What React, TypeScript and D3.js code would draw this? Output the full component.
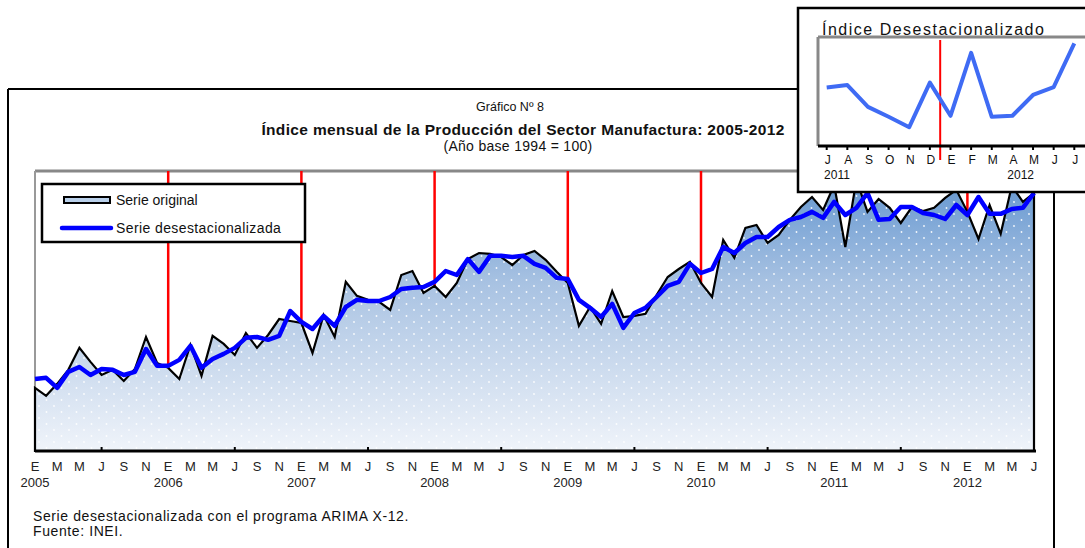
import React from 'react';
import * as d3 from 'd3';

// Índice mensual de la producción manufacturera (1994 = 100), ene 2005 - jul 2012
const serieOriginal = [
  102.1, 99.3, 103.5, 108.4, 116.1, 111.2, 106.6, 108.4, 104.5, 108.7, 119.9, 110.8,
  109.1, 105.2, 117.1, 106.3, 120.3, 117.5, 113.6, 121.3, 116.1, 120.6, 126.2, 125.5,
  124.8, 114.3, 127.6, 119.9, 139.2, 134.3, 132.9, 132.2, 129.4, 141.6, 143.0, 135.3,
  137.8, 133.9, 138.8, 147.2, 149.3, 149.0, 147.9, 145.1, 148.6, 150.0, 146.9, 142.7,
  138.8, 123.8, 130.4, 124.5, 136.0, 126.9, 127.3, 128.0, 134.6, 140.9, 143.7, 146.2,
  138.8, 133.9, 153.9, 147.6, 158.1, 159.1, 152.8, 155.6, 160.9, 165.4, 168.9, 164.4,
  173.1, 151.4, 174.9, 163.7, 168.2, 165.1, 159.8, 165.4, 164.0, 165.1, 168.6, 171.4,
  163.7, 154.2, 166.1, 156.0, 172.8, 167.2, 170.3,
];

const serieDesest = [
  105.2, 105.6, 102.1, 107.7, 109.4, 106.6, 108.7, 108.4, 106.6, 107.7, 115.7, 109.8,
  109.8, 111.9, 116.8, 109.1, 112.2, 114.0, 116.1, 119.6, 119.9, 118.9, 120.3, 129.0,
  125.2, 122.7, 127.3, 123.8, 130.4, 132.9, 132.5, 132.5, 133.9, 136.7, 137.1, 137.4,
  139.2, 143.0, 141.6, 147.2, 142.7, 148.3, 148.3, 147.9, 148.3, 145.5, 144.1, 140.6,
  140.2, 132.9, 130.1, 126.9, 131.5, 123.1, 128.3, 130.1, 133.9, 137.8, 139.2, 145.5,
  142.3, 143.7, 151.4, 149.3, 152.8, 154.9, 154.9, 158.4, 160.9, 161.9, 163.7, 161.6,
  167.2, 162.6, 165.1, 170.3, 160.9, 161.2, 165.4, 165.4, 163.3, 162.6, 161.2, 166.1,
  162.6, 168.9, 163.0, 163.0, 164.7, 165.1, 170.3,
];

const mesesLetra = ['E', 'F', 'M', 'A', 'M', 'J', 'J', 'A', 'S', 'O', 'N', 'D'];
const anios = ['2005', '2006', '2007', '2008', '2009', '2010', '2011', '2012'];

// recuadro: julio 2011 - julio 2012
const insetMeses = ['J', 'A', 'S', 'O', 'N', 'D', 'E', 'F', 'M', 'A', 'M', 'J', 'J'];
const insetValores = [161.8, 162.3, 157.9, 155.9, 153.8, 162.8, 156.1, 168.8, 155.9, 156.1, 160.3, 161.9, 170.7];
const insetAnios = [{ label: '2011', pos: 0.5 }, { label: '2012', pos: 9.4 }];

const FONT = "'Liberation Sans', Arial, sans-serif";

export default function App() {
  const width = 1085;
  const height = 548;

  const plot = { left: 35, right: 1035, top: 171, bottom: 451 };
  const n = serieOriginal.length;

  const x = d3.scaleLinear().domain([0, 90]).range([plot.left, plot.left + 90 * 11.1]);
  const y = d3.scaleLinear().domain([80, 178]).range([plot.bottom, plot.top]);

  const area = d3.area<number>()
    .x((d, i) => x(i))
    .y0(plot.bottom)
    .y1(d => y(d));
  const line = d3.line<number>()
    .x((d, i) => x(i))
    .y(d => y(d));

  const idx = d3.range(n);
  const eneros = idx.filter(i => i % 12 === 0 && i > 0);
  const julios = idx.filter(i => i % 12 === 6);
  const etiquetasMes = idx.filter(i => i % 2 === 0);

  // inset
  const ix = d3.scaleLinear().domain([0, 12]).range([826.7, 1074.3]);
  const iy = d3.scaleLinear().domain([150, 172]).range([146, 37]);
  const insetLine = d3.line<number>().x((d, i) => ix(i)).y(d => iy(d));

  return (
    <svg width={width} height={height} style={{ position: 'absolute', left: 0, top: 0, background: '#fff' }}
      fontFamily={FONT}>
      <defs>
        <linearGradient id="grad" gradientUnits="userSpaceOnUse" x1="0" y1={plot.top} x2="0" y2={plot.bottom}>
          <stop offset="0" stopColor="#5f93ce" />
          <stop offset="0.4" stopColor="#a8c2e2" />
          <stop offset="1" stopColor="#f0f4fa" />
        </linearGradient>
        <pattern id="dots" patternUnits="userSpaceOnUse" width="15" height="12" x={plot.left} y={plot.bottom}>
          <circle cx="4" cy="3" r="0.9" fill="#fff" opacity="0.9" />
          <circle cx="11.5" cy="9" r="0.9" fill="#fff" opacity="0.9" />
        </pattern>
      </defs>

      {/* marco exterior */}
      <line x1={8} y1={89} x2={800} y2={89} stroke="#000" strokeWidth={2} />
      <line x1={8} y1={89} x2={8} y2={height} stroke="#000" strokeWidth={2} />
      <line x1={1054} y1={89} x2={1054} y2={height} stroke="#000" strokeWidth={2} />

      {/* títulos */}
      <text x={510} y={111} textAnchor="middle" fontSize={12.5} fill="#111">Gráfico Nº 8</text>
      <text x={523} y={135} textAnchor="middle" fontSize={15.5} fontWeight="bold" letterSpacing={0.35} fill="#111">
        Índice mensual de la Producción del Sector Manufactura: 2005-2012
      </text>
      <text x={518} y={151} textAnchor="middle" fontSize={14} letterSpacing={0.3} fill="#111">(Año base 1994 = 100)</text>

      {/* marco del gráfico */}
      <line x1={plot.left} y1={plot.top} x2={1085} y2={plot.top} stroke="#888" strokeWidth={3} />
      <line x1={plot.left} y1={plot.top} x2={plot.left} y2={plot.bottom} stroke="#999" strokeWidth={2} />

      {/* separadores de año */}
      {eneros.map(i => (
        <line key={'r' + i} x1={x(i)} x2={x(i)} y1={plot.top} y2={plot.bottom} stroke="#ff0000" strokeWidth={2.5} />
      ))}

      {/* serie original */}
      <path d={area(serieOriginal) || ''} fill="url(#grad)" />
      <path d={area(serieOriginal) || ''} fill="url(#dots)" />
      <path d={area(serieOriginal) || ''} fill="none" stroke="#000" strokeWidth={2.2} strokeLinejoin="miter" />

      {/* serie desestacionalizada */}
      <path d={line(serieDesest) || ''} fill="none" stroke="#0000ff" strokeWidth={4.5} strokeLinejoin="round" />

      {/* eje x */}
      <line x1={plot.left} x2={plot.right + 1} y1={plot.bottom} y2={plot.bottom} stroke="#000" strokeWidth={3} />
      {julios.map(i => (
        <line key={'t' + i} x1={x(i)} x2={x(i)} y1={plot.bottom} y2={plot.bottom - 4} stroke="#000" strokeWidth={2} />
      ))}
      {etiquetasMes.map(i => (
        <text key={'m' + i} x={x(i)} y={471} textAnchor="middle" fontSize={13} fill="#222">{mesesLetra[i % 12]}</text>
      ))}
      {anios.map((a, k) => (
        <text key={a} x={x(k * 12)} y={487} textAnchor="middle" fontSize={13} fill="#222">{a}</text>
      ))}

      {/* leyenda */}
      <rect x={42} y={184} width={263} height={58} fill="#fff" stroke="#000" strokeWidth={2.5} />
      <rect x={64} y={197} width={46} height={6} fill="#b9d0ea" stroke="#000" strokeWidth={2} />
      <text x={116} y={205} fontSize={14} fill="#111">Serie original</text>
      <line x1={62} x2={111} y1={228} y2={228} stroke="#0000ff" strokeWidth={4.5} strokeLinecap="round" />
      <text x={116} y={233} fontSize={14} letterSpacing={0.4} fill="#111">Serie desestacionalizada</text>

      {/* nota */}
      <text x={33} y={521} fontSize={14} letterSpacing={0.6} fill="#111">Serie desestacionalizada con el programa ARIMA X-12.</text>
      <text x={33} y={536} fontSize={14} letterSpacing={0.6} fill="#111">Fuente: INEI.</text>

      {/* recuadro */}
      <g>
        <rect x={798} y={8} width={300} height={184} fill="#fff" stroke="#000" strokeWidth={2.5} />
        <text x={822} y={35} fontSize={16} letterSpacing={1.5} fill="#111">Índice Desestacionalizado</text>
        <line x1={818} y1={37} x2={1085} y2={37} stroke="#888" strokeWidth={3} />
        <line x1={818} y1={37} x2={818} y2={146} stroke="#888" strokeWidth={3} />
        <line x1={(ix(5) + ix(6)) / 2} x2={(ix(5) + ix(6)) / 2} y1={40} y2={160} stroke="#ff0000" strokeWidth={2} />
        <path d={insetLine(insetValores) || ''} fill="none" stroke="#3f6bf4" strokeWidth={4} strokeLinejoin="round" />
        <line x1={818} y1={146} x2={1085} y2={146} stroke="#000" strokeWidth={3} />
        {insetMeses.map((m, i) => (
          <g key={'im' + i}>
            <line x1={ix(i)} x2={ix(i)} y1={146} y2={150} stroke="#000" strokeWidth={2} />
            <text x={ix(i) + 1} y={164} textAnchor="middle" fontSize={12} fill="#111">{m}</text>
          </g>
        ))}
        {insetAnios.map(a => (
          <text key={a.label} x={ix(a.pos)} y={179} textAnchor="middle" fontSize={12} fill="#111">{a.label}</text>
        ))}
      </g>
    </svg>
  );
}
